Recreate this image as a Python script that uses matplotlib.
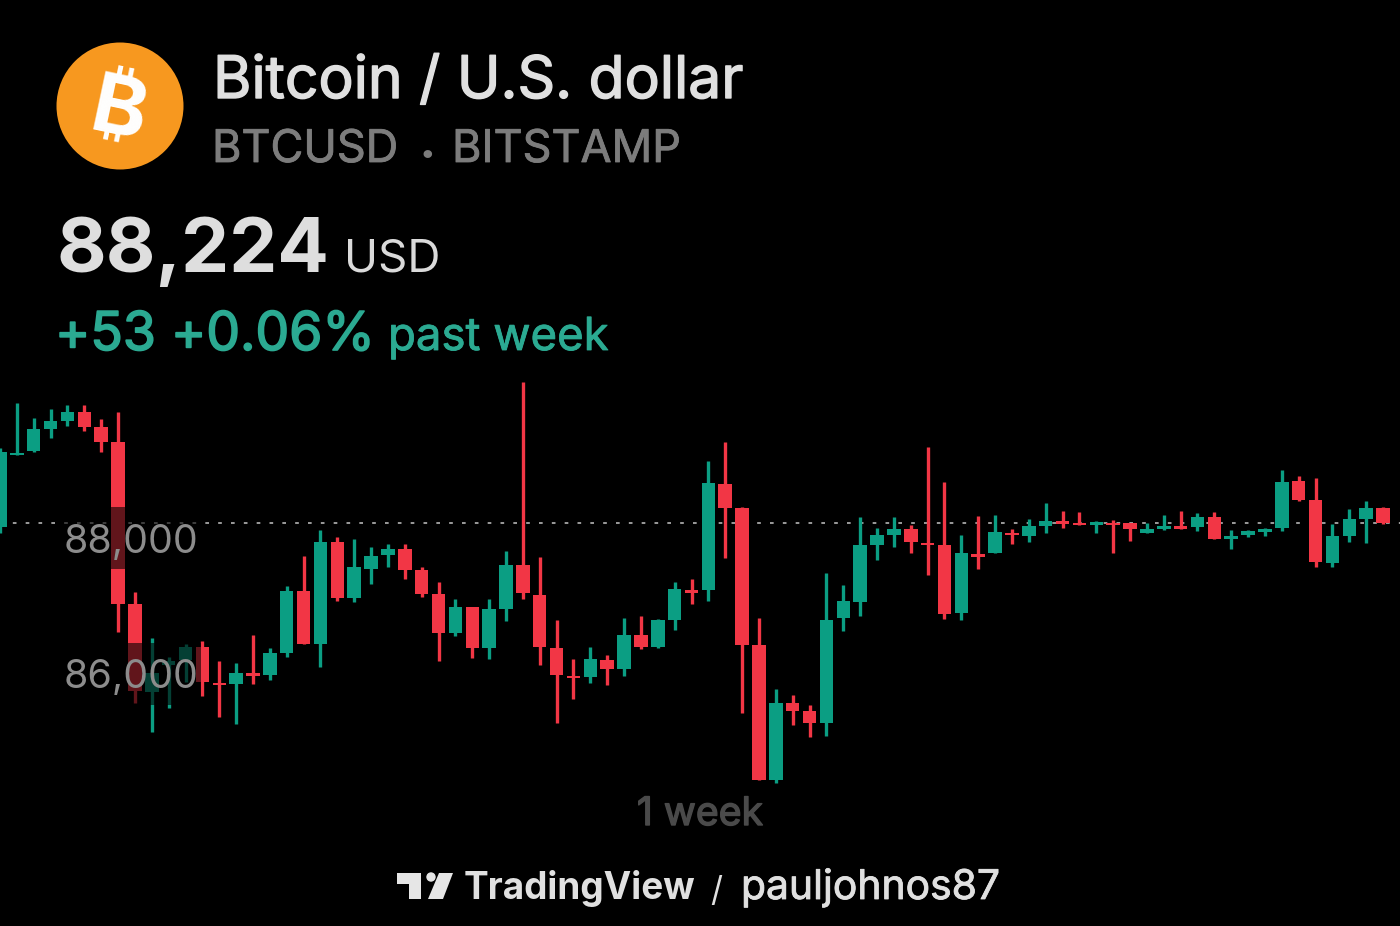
import matplotlib
matplotlib.use("Agg")
import matplotlib.pyplot as plt
import matplotlib.patheffects as pe
from matplotlib.patches import Circle, Polygon, Rectangle

# BTCUSD candles
opens = [88162, 89221, 89279, 89603, 89721, 89853, 89632, 89412, 87029, 85735,
         86132, 86206, 86397, 85868, 85853, 86015, 85985, 86309, 87221, 86441,
         87941, 87118, 87544, 87750, 87838, 87529, 87176, 86603, 86985, 86382,
         86956, 87603, 87162, 86382, 85971, 85956, 86206, 86074, 86574, 86397,
         86794, 87235, 87235, 88794, 88441, 86426, 84441, 85574, 85456, 85279,
         86824, 87059, 87897, 88044, 88132, 87926, 87897, 86897, 87765, 87779,
         88074, 88029, 88176, 88250, 88221, 88191, 88221, 88221, 88074, 88132,
         88176, 88162, 88309, 87985, 88044, 88088, 88147, 88838, 88559, 87632,
         88029, 88279, 88441]
closes = [89265, 89250, 89603, 89721, 89853, 89632, 89412, 87029, 85750, 86015,
          86191, 86397, 85882, 85838, 86015, 85971, 86309, 87221, 86441, 87941,
          87118, 87574, 87735, 87838, 87529, 87176, 86603, 86985, 86382, 86956,
          87603, 87191, 86397, 85985, 85941, 86221, 86074, 86574, 86397, 86794,
          87250, 87191, 88809, 88441, 86426, 84441, 85574, 85456, 85279, 86794,
          87074, 87897, 88044, 88132, 87941, 87897, 86882, 87779, 87721, 88088,
          88044, 88176, 88250, 88206, 88191, 88235, 88191, 88132, 88132, 88176,
          88132, 88309, 87985, 88029, 88103, 88132, 88824, 88559, 87647, 88029,
          88279, 88441, 88221]
highs = [89324, 89985, 89765, 89897, 89956, 89956, 89750, 89853, 87206, 86529,
         86250, 86441, 86485, 86191, 86162, 86574, 86382, 87294, 87735, 88118,
         88015, 87985, 87868, 87912, 87912, 87574, 87353, 87103, 86985, 87103,
         87809, 90294, 87721, 86794, 86221, 86397, 86279, 86824, 86853, 86809,
         87353, 87397, 89132, 89412, 88456, 86824, 85779, 85691, 85544, 87485,
         87309, 88309, 88147, 88309, 88191, 89338, 88824, 88044, 88324, 88338,
         88132, 88279, 88515, 88397, 88382, 88250, 88265, 88221, 88221, 88338,
         88397, 88368, 88382, 88118, 88118, 88147, 89000, 88912, 88882, 88206,
         88426, 88544, 88456]
lows = [88074, 89221, 89265, 89471, 89647, 89574, 89265, 86618, 85574, 85147,
        85500, 85882, 85676, 85368, 85265, 85853, 85912, 86250, 86441, 86103,
        87074, 87059, 87324, 87574, 87397, 87132, 86191, 86559, 86235, 86221,
        86779, 87103, 86132, 85279, 85632, 85868, 85838, 85971, 86368, 86382,
        86647, 87029, 87074, 87706, 85426, 84441, 84397, 85250, 85074, 85088,
        86632, 86853, 87676, 87868, 87779, 87456, 86809, 86794, 87544, 87779,
        87912, 87941, 88074, 88147, 88191, 88074, 87779, 87956, 88074, 88118,
        88132, 88103, 87985, 87838, 88015, 88029, 88103, 88544, 87574, 87574,
        87941, 87926, 88206]

last_price = 88224
price_labels = [88000, 86000]

UP = "#0B9E83"
DOWN = "#F23645"
TEAL = "#2BAA92"
FONT = ["Inter", "Roboto", "DejaVu Sans"]


def heavier(text, width):
    # only regular and bold are available, so thicken the regular cut a bit
    text.set_path_effects([pe.withStroke(linewidth=width, foreground=text.get_color())])


fig = plt.figure(figsize=(14, 9.26), dpi=100, facecolor="black")

# price chart fills the whole picture
ax = fig.add_axes([0, 0, 1, 1], facecolor="black")
ax.set_xlim(0, 1400 / 16.866)
ax.set_ylim(82294, 95912)
ax.axis("off")

ax.axhline(last_price, color="#B5B5B5", lw=1.2, linestyle=(0, (2.2, 5.5)), zorder=1)

for i in range(len(opens)):
    color = UP if closes[i] >= opens[i] else DOWN
    ax.vlines(i, lows[i], highs[i], color=color, lw=2.4, zorder=2)
    ax.bar(i, abs(closes[i] - opens[i]), bottom=min(opens[i], closes[i]),
           width=0.8, color=color, linewidth=0, zorder=3)

for p in price_labels:
    ax.add_patch(Rectangle((3.6, p - 450), 8.3, 900, facecolor="black",
                           alpha=0.6, edgecolor="none", zorder=4))
    ax.text(3.8, p, f"{p:,}", color="#8C8C8C", fontsize=28.4, family=FONT,
            va="center_baseline", ha="left", zorder=5)

# overlay in picture pixels for the header and footer
top = fig.add_axes([0, 0, 1, 1])
top.patch.set_alpha(0)
top.set_xlim(0, 1400)
top.set_ylim(926, 0)
top.axis("off")

top.add_patch(Circle((120, 106), 63.5, facecolor="#F7981F", edgecolor="none"))
top.text(119, 113, "\u20bf", color="white", fontsize=60, fontweight="bold",
         family=["Inter", "Noto Sans", "Open Sans", "Lato", "Liberation Sans"],
         rotation=-12, ha="center", va="center")

title = top.text(213, 98, "Bitcoin / U.S. dollar", color="#E0E0E0", fontsize=42.3,
                 family=FONT, va="baseline")
heavier(title, 1.0)
for x, s in [(212, "BTCUSD"), (452, "BITSTAMP")]:
    sub = top.text(x, 162, s, color="#7C7C7C", fontsize=32.4, family=FONT, va="baseline")
    heavier(sub, 0.6)
top.text(427, 162, "\u2022", color="#7C7C7C", fontsize=20, family=FONT, va="baseline", ha="center")

top.text(57, 272, "88,224", color="#DEDEDE", fontsize=55, fontweight="bold",
         family=FONT, va="baseline")
top.text(344, 272, "USD", color="#DADADA", fontsize=33, family=FONT, va="baseline")

change = top.text(55, 350, "+53 +0.06%", color=TEAL, fontsize=38.5, family=FONT, va="baseline")
heavier(change, 1.2)
week = top.text(388, 350, "past week", color=TEAL, fontsize=32.8, family=FONT, va="baseline")
heavier(week, 0.6)

span = top.text(700, 825, "1 week", color="#4A4A4A", fontsize=28.2, family=FONT,
                va="baseline", ha="center")
heavier(span, 1.0)

# TradingView mark
top.add_patch(Polygon([(397, 873), (421, 873), (421, 899), (409, 899), (409, 884), (397, 884)],
                      facecolor="#E6E6E6", edgecolor="none"))
top.add_patch(Circle((431, 877), 4.7, facecolor="#E6E6E6", edgecolor="none"))
top.add_patch(Polygon([(439, 873), (453, 873), (443, 899), (428, 899)],
                      facecolor="#E6E6E6", edgecolor="none"))
top.text(464, 899, "TradingView", color="#E0E0E0", fontsize=26.6, fontweight="bold",
         family=FONT, va="baseline")
top.text(716, 901, "/", color="#E0E0E0", fontsize=24, family=FONT, va="baseline", ha="center")
user = top.text(741, 899, "pauljohnos87", color="#E0E0E0", fontsize=29.4, family=FONT, va="baseline")
heavier(user, 0.6)

fig.savefig("out.png", dpi=100, facecolor="black")
